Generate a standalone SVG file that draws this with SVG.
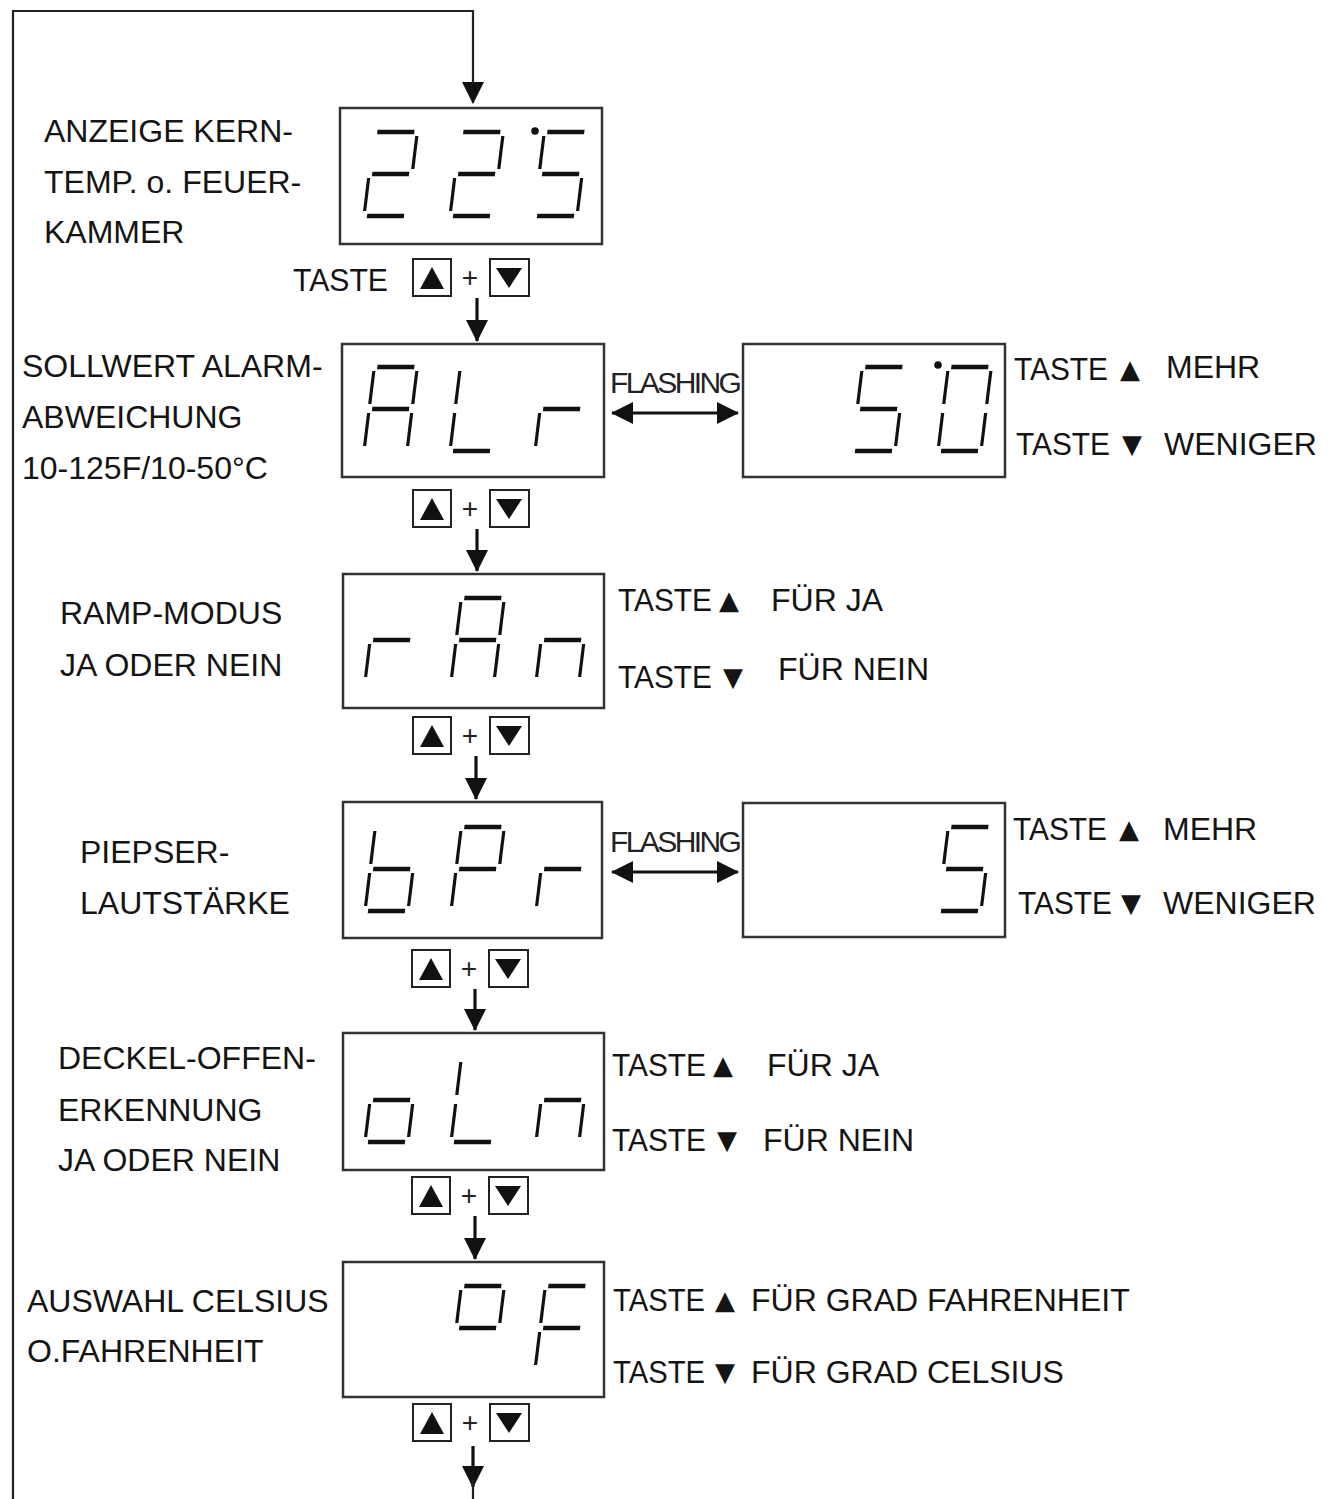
<svg xmlns="http://www.w3.org/2000/svg" xmlns:xlink="http://www.w3.org/1999/xlink" width="1336" height="1499" viewBox="0 0 1336 1499">
<style>
.lbl{font-family:"Liberation Sans",Arial,sans-serif;font-size:32px;fill:#141414}
.tri{font-family:"DejaVu Sans",sans-serif;font-size:26px;fill:#141414}
.fl{font-family:"Liberation Sans",Arial,sans-serif;font-size:30px;fill:#222;letter-spacing:-2.6px}
.plus{font-family:"Liberation Sans",Arial,sans-serif;font-size:28px;fill:#222}
.box{fill:#fff;stroke:#333;stroke-width:2.5}
.key{fill:#fff;stroke:#222;stroke-width:2}
.h{stroke:#111;stroke-width:4.5}
.v{stroke:#111;stroke-width:3.2}
.conn{fill:none;stroke:#222;stroke-width:2.2}
.thick{fill:none;stroke:#111;stroke-width:3.2}
</style>
<defs>
<line id="sa" class="h" x1="3" y1="-84" x2="40" y2="-84"/>
<line id="sb" class="v" x1="43" y1="-80" x2="43" y2="-47"/>
<line id="sc" class="v" x1="43" y1="-38" x2="43" y2="-5"/>
<line id="sd" class="h" x1="3" y1="0" x2="40" y2="0"/>
<line id="se" class="v" x1="0" y1="-38" x2="0" y2="-5"/>
<line id="sf" class="v" x1="0" y1="-80" x2="0" y2="-47"/>
<line id="sg" class="h" x1="3" y1="-42" x2="40" y2="-42"/>
<g id="d2"><use href="#sa"/><use href="#sb"/><use href="#sg"/><use href="#se"/><use href="#sd"/></g>
<g id="d5"><use href="#sa"/><use href="#sf"/><use href="#sg"/><use href="#sc"/><use href="#sd"/></g>
<g id="d0"><use href="#sa"/><use href="#sb"/><use href="#sc"/><use href="#sd"/><use href="#se"/><use href="#sf"/></g>
<g id="dA"><use href="#sa"/><use href="#sb"/><use href="#sc"/><use href="#se"/><use href="#sf"/><use href="#sg"/></g>
<g id="dL"><use href="#sf"/><use href="#se"/><use href="#sd"/></g>
<g id="dr"><use href="#se"/><use href="#sg"/></g>
<g id="dn"><use href="#se"/><use href="#sg"/><use href="#sc"/></g>
<g id="db"><use href="#sf"/><use href="#se"/><use href="#sg"/><use href="#sc"/><use href="#sd"/></g>
<g id="dP"><use href="#sa"/><use href="#sb"/><use href="#sf"/><use href="#sg"/><use href="#se"/></g>
<g id="do"><use href="#se"/><use href="#sg"/><use href="#sc"/><use href="#sd"/></g>
<g id="ddeg"><use href="#sa"/><use href="#sb"/><use href="#sf"/><use href="#sg"/></g>
<g id="dF"><use href="#sa"/><use href="#sf"/><use href="#sg"/><use href="#se"/></g>
<g id="keys">
<rect class="key" x="0" y="0" width="38" height="37"/>
<polygon points="7,30 31,30 19,8" fill="#111"/>
<text class="plus" x="57" y="28" text-anchor="middle">+</text>
<rect class="key" x="77" y="0" width="39" height="37"/>
<polygon points="83,9 109,9 96,29" fill="#111"/>
</g>
<marker id="ah" markerUnits="userSpaceOnUse" viewBox="0 0 22 22" markerWidth="22" markerHeight="22" refX="21" refY="11" orient="auto">
<path d="M0,0 L22,11 L0,22 z" fill="#111"/>
</marker>
<marker id="ahs" markerUnits="userSpaceOnUse" viewBox="0 0 22 22" markerWidth="22" markerHeight="22" refX="1" refY="11" orient="auto">
<path d="M22,0 L0,11 L22,22 z" fill="#111"/>
</marker>
</defs>
<rect width="1336" height="1499" fill="#fff"/>

<g id="connectors">
<path class="conn" d="M13,1499 V11 H473 V103" marker-end="url(#ah)"/>
<line class="thick" x1="477" y1="298" x2="477" y2="341" marker-end="url(#ah)"/>
<line class="thick" x1="477" y1="529" x2="477" y2="571" marker-end="url(#ah)"/>
<line class="thick" x1="476" y1="756" x2="476" y2="799" marker-end="url(#ah)"/>
<line class="thick" x1="475" y1="989" x2="475" y2="1030" marker-end="url(#ah)"/>
<line class="thick" x1="475" y1="1216" x2="475" y2="1259" marker-end="url(#ah)"/>
<line class="thick" x1="473" y1="1446" x2="473" y2="1487" marker-end="url(#ah)"/>
<line class="conn" x1="473" y1="1480" x2="473" y2="1499"/>
<line class="thick" x1="612" y1="413" x2="738" y2="413" marker-start="url(#ahs)" marker-end="url(#ah)"/>
<line class="thick" x1="612" y1="872" x2="738" y2="872" marker-start="url(#ahs)" marker-end="url(#ah)"/>
<text class="fl" x="610" y="393">FLASHING</text>
<text class="fl" x="610" y="852">FLASHING</text>
</g>

<g id="keys1"><use href="#keys" x="413" y="259"/><text class="lbl" x="293" y="291" textLength="95" lengthAdjust="spacingAndGlyphs">TASTE</text></g>
<g id="keys2"><use href="#keys" x="413" y="490"/></g>
<g id="keys3"><use href="#keys" x="413" y="717"/></g>
<g id="keys4"><use href="#keys" x="412" y="950"/></g>
<g id="keys5"><use href="#keys" x="412" y="1177"/></g>
<g id="keys6"><use href="#keys" x="413" y="1404"/></g>

<g id="node-anzeige">
<rect class="box" x="340" y="108" width="262" height="136"/>
<use href="#d2" transform="translate(364,216) skewX(-7)"/>
<use href="#d2" transform="translate(450,216) skewX(-7)"/>
<use href="#d5" transform="translate(534,216) skewX(-7)"/>
<circle cx="535" cy="131" r="3.8" fill="#111"/>
<text class="lbl" x="44" y="142">ANZEIGE KERN-</text>
<text class="lbl" x="44" y="193">TEMP. o. FEUER-</text>
<text class="lbl" x="44" y="243">KAMMER</text>
</g>

<g id="node-alr">
<rect class="box" x="342" y="344" width="262" height="133"/>
<use href="#dA" transform="translate(364,451) skewX(-7)"/>
<use href="#dL" transform="translate(450,451) skewX(-7)"/>
<use href="#dr" transform="translate(535,451) skewX(-7)"/>
<text class="lbl" x="22" y="377">SOLLWERT ALARM-</text>
<text class="lbl" x="22" y="428">ABWEICHUNG</text>
<text class="lbl" x="22" y="479">10-125F/10-50°C</text>
</g>

<g id="node-50">
<rect class="box" x="743" y="344" width="262" height="133"/>
<use href="#d5" transform="translate(852,451) skewX(-7)"/>
<use href="#d0" transform="translate(938,451) skewX(-7)"/>
<circle cx="938" cy="365" r="3.8" fill="#111"/>
<text class="lbl" x="1014" y="380" textLength="94" lengthAdjust="spacingAndGlyphs">TASTE</text><text class="tri" x="1120" y="378">▲</text><text class="lbl" x="1166" y="378">MEHR</text>
<text class="lbl" x="1016" y="455" textLength="94" lengthAdjust="spacingAndGlyphs">TASTE</text><text class="tri" x="1122" y="453">▼</text><text class="lbl" x="1164" y="455">WENIGER</text>
</g>

<g id="node-ran">
<rect class="box" x="343" y="574" width="261" height="134"/>
<use href="#dr" transform="translate(365,682) skewX(-7)"/>
<use href="#dA" transform="translate(451,682) skewX(-7)"/>
<use href="#dn" transform="translate(536,682) skewX(-7)"/>
<text class="lbl" x="60" y="624">RAMP-MODUS</text>
<text class="lbl" x="60" y="676">JA ODER NEIN</text>
<text class="lbl" x="618" y="611" textLength="94" lengthAdjust="spacingAndGlyphs">TASTE</text><text class="tri" x="719" y="609">▲</text><text class="lbl" x="771" y="611">FÜR JA</text>
<text class="lbl" x="618" y="688" textLength="94" lengthAdjust="spacingAndGlyphs">TASTE</text><text class="tri" x="723" y="686">▼</text><text class="lbl" x="778" y="680">FÜR NEIN</text>
</g>

<g id="node-bpr">
<rect class="box" x="343" y="802" width="259" height="136"/>
<use href="#db" transform="translate(365,911) skewX(-7)"/>
<use href="#dP" transform="translate(451,911) skewX(-7)"/>
<use href="#dr" transform="translate(536,911) skewX(-7)"/>
<text class="lbl" x="80" y="863">PIEPSER-</text>
<text class="lbl" x="80" y="914">LAUTSTÄRKE</text>
</g>

<g id="node-5">
<rect class="box" x="743" y="803" width="262" height="134"/>
<use href="#d5" transform="translate(938,911) skewX(-7)"/>
<text class="lbl" x="1013" y="840" textLength="94" lengthAdjust="spacingAndGlyphs">TASTE</text><text class="tri" x="1119" y="838">▲</text><text class="lbl" x="1163" y="840">MEHR</text>
<text class="lbl" x="1018" y="914" textLength="94" lengthAdjust="spacingAndGlyphs">TASTE</text><text class="tri" x="1121" y="912">▼</text><text class="lbl" x="1163" y="914">WENIGER</text>
</g>

<g id="node-oln">
<rect class="box" x="343" y="1033" width="261" height="137"/>
<use href="#do" transform="translate(365,1142) skewX(-7)"/>
<use href="#dL" transform="translate(451,1142) skewX(-7)"/>
<use href="#dn" transform="translate(536,1142) skewX(-7)"/>
<text class="lbl" x="58" y="1069">DECKEL-OFFEN-</text>
<text class="lbl" x="58" y="1121">ERKENNUNG</text>
<text class="lbl" x="58" y="1171">JA ODER NEIN</text>
<text class="lbl" x="612" y="1076" textLength="94" lengthAdjust="spacingAndGlyphs">TASTE</text><text class="tri" x="713" y="1074">▲</text><text class="lbl" x="767" y="1076">FÜR JA</text>
<text class="lbl" x="612" y="1151" textLength="94" lengthAdjust="spacingAndGlyphs">TASTE</text><text class="tri" x="717" y="1149">▼</text><text class="lbl" x="763" y="1151">FÜR NEIN</text>
</g>

<g id="node-0f">
<rect class="box" x="343" y="1262" width="261" height="135"/>
<use href="#ddeg" transform="translate(451,1370) skewX(-7)"/>
<use href="#dF" transform="translate(535,1370) skewX(-7)"/>
<text class="lbl" x="27" y="1312">AUSWAHL CELSIUS</text>
<text class="lbl" x="27" y="1362">O.FAHRENHEIT</text>
<text class="lbl" x="613" y="1311" textLength="92" lengthAdjust="spacingAndGlyphs">TASTE</text><text class="tri" x="715" y="1309">▲</text><text class="lbl" x="751" y="1311">FÜR GRAD FAHRENHEIT</text>
<text class="lbl" x="613" y="1383" textLength="92" lengthAdjust="spacingAndGlyphs">TASTE</text><text class="tri" x="715" y="1381">▼</text><text class="lbl" x="751" y="1383">FÜR GRAD CELSIUS</text>
</g>
</svg>
